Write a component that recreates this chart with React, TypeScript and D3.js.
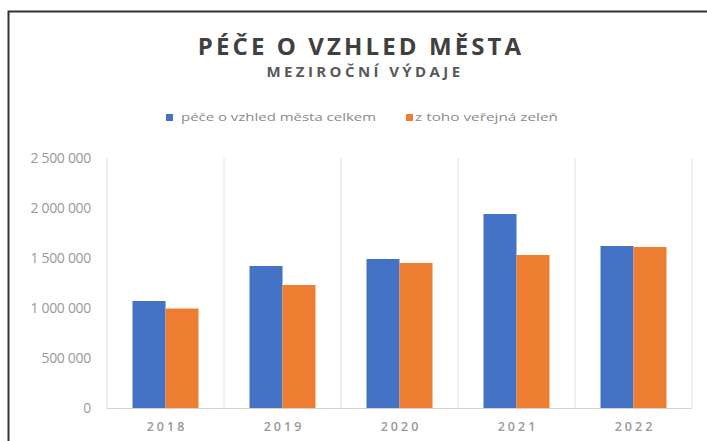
import React from "react";
import * as d3 from "d3";

const years = ["2018", "2019", "2020", "2021", "2022"];
const seriesNames = ["péče o vzhled města celkem", "z toho veřejná zeleň"];
const totalCare = [1070000, 1420000, 1490000, 1940000, 1620000];
const publicGreen = [995000, 1230000, 1450000, 1530000, 1610000];
const yTicks = [0, 500000, 1000000, 1500000, 2000000, 2500000];
const colors = ["#4472C4", "#ED7D31"];

const W = 707;
const H = 441;

export default function App() {
  const x = d3.scaleBand<string>().domain(years).range([107, 692]).padding(0);
  const bw = x.bandwidth();
  const groupW = 66;
  const x1 = d3
    .scaleBand<number>()
    .domain([0, 1])
    .range([(bw - groupW) / 2, (bw + groupW) / 2])
    .padding(0);
  const y = d3.scaleLinear().domain([0, 2500000]).range([408, 158]);
  const fmt = d3
    .formatLocale({ decimal: ",", thousands: "\u00a0", grouping: [3], currency: ["", ""] })
    .format(",");
  const data = [totalCare, publicGreen];
  const boundaries = [...years.map((yr) => x(yr) as number), 692];
  const font = "'Open Sans', 'Noto Sans', sans-serif";

  return (
    <svg
      width={W}
      height={H}
      style={{ position: "absolute", left: 0, top: 0, background: "#fff" }}
      fontFamily={font}
    >
      <rect x={8.5} y={11.5} width={W + 10} height={H + 10} fill="#fff" stroke="#333" strokeWidth={2} />
      <text x={361} y={55} textAnchor="middle" fontSize={24} fontWeight={700} fill="#404040" letterSpacing={3.1}>
        PÉČE O VZHLED MĚSTA
      </text>
      <text x={365} y={77} textAnchor="middle" fontSize={15} fontWeight={700} fill="#595959" letterSpacing={3.4}>
        MEZIROČNÍ VÝDAJE
      </text>
      {/* legend */}
      <g>
        <rect x={166} y={114} width={7} height={7} fill={colors[0]} />
        <text x={181} y={121} fontSize={11.5} fill="#8a8a8a" textLength={195} lengthAdjust="spacingAndGlyphs">
          {seriesNames[0]}
        </text>
        <rect x={406} y={114} width={7} height={7} fill={colors[1]} />
        <text x={415} y={121} fontSize={11.5} fill="#8a8a8a" textLength={143} lengthAdjust="spacingAndGlyphs">
          {seriesNames[1]}
        </text>
      </g>
      {/* vertical gridlines */}
      {boundaries.map((bx, i) => (
        <line key={i} x1={bx} x2={bx} y1={y(2500000)} y2={y(0)} stroke="#e4dede" strokeWidth={1} />
      ))}
      {/* y tick labels */}
      {yTicks.map((t) => (
        <text key={t} x={91} y={y(t) + 5} textAnchor="end" fontSize={14} fill="#999" letterSpacing={-0.3}>
          {fmt(t)}
        </text>
      ))}
      {/* bars */}
      {years.map((yr, i) => (
        <g key={yr} transform={`translate(${x(yr)},0)`}>
          {data.map((s, j) => (
            <rect
              key={j}
              x={x1(j)}
              y={y(s[i])}
              width={x1.bandwidth()}
              height={y(0) - y(s[i])}
              fill={colors[j]}
            />
          ))}
          <text x={bw / 2 + 1.5} y={431} textAnchor="middle" fontSize={12.5} fontWeight={600} fill="#999" letterSpacing={3}>
            {yr}
          </text>
        </g>
      ))}
      {/* baseline */}
      <line x1={107} x2={692} y1={y(0) + 0.5} y2={y(0) + 0.5} stroke="#d9d3d3" strokeWidth={1} />
    </svg>
  );
}
